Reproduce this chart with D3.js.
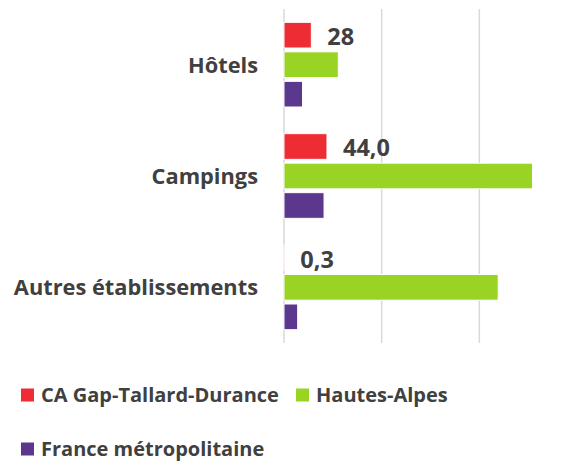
<!DOCTYPE html>
<html>
<head lang="fr">
    <meta charset="UTF-8">
    <title>Hébergements</title>
    <script src="https://cdn.jsdelivr.net/npm/d3@7/dist/d3.min.js"></script>
    <style>
        body { margin: 0; background: #fff; }
        text { font-family: "Open Sans", sans-serif; font-weight: bold; fill: #404040; }
        .grid line { stroke: #d9d9d9; stroke-width: 1.5; }
    </style>
</head>
<body>
<script>

    var categories = ["Hôtels", "Campings", "Autres établissements"];
    var series = ["CA Gap-Tallard-Durance", "Hautes-Alpes", "France métropolitaine"];
    var colors = ["#ee2c33", "#99d324", "#5b388d"];

    var gapValues = [28, 44.0, 0.3];
    var alpesValues = [55.6, 254.4, 219.3];
    var franceValues = [19, 41, 14];
    var gapLabels = ["28", "44,0", "0,3"];
    var gridTicks = [0, 100, 200, 300];

    var width = 574,
            height = 461;

    var svg = d3.select("body").append("svg")
            .attr("width", width)
            .attr("height", height);

    var x = d3.scaleLinear().domain([0, 300]).range([284, 577]);

    var y = d3.scaleBand().domain(categories).range([9, 343]);

    var inner = d3.scaleBand().domain(series)
            .range([(y.bandwidth() - 88.5) / 2, (y.bandwidth() + 88.5) / 2])
            .paddingInner(0.13).paddingOuter(0.065);

    // gridlines
    svg.append("g").attr("class", "grid")
            .selectAll("line").data(gridTicks).enter().append("line")
            .attr("x1", function(d) { return x(d); })
            .attr("x2", function(d) { return x(d); })
            .attr("y1", 9)
            .attr("y2", 343);

    var rows = categories.map(function(c, i) {
        return {cat: c, vals: [gapValues[i], alpesValues[i], franceValues[i]], label: gapLabels[i]};
    });

    var groups = svg.selectAll(".cat").data(rows).enter().append("g")
            .attr("class", "cat")
            .attr("transform", function(d) { return "translate(0," + y(d.cat) + ")"; });

    groups.selectAll("rect")
            .data(function(d) { return d.vals.map(function(v, j) { return {s: series[j], v: v, j: j}; }); })
            .enter().append("rect")
            .attr("x", x(0))
            .attr("y", function(d) { return inner(d.s); })
            .attr("width", function(d) { return x(d.v) - x(0); })
            .attr("height", inner.bandwidth())
            .attr("fill", function(d) { return colors[d.j]; })
            .attr("stroke", "#fff")
            .attr("stroke-width", 1);

    // data labels on first series
    groups.append("text")
            .attr("x", function(d) { return x(d.vals[0]) + 16; })
            .attr("y", function(d) { return inner(series[0]) + inner.bandwidth() / 2 + 10; })
            .style("font-size", "23.5px")
            .text(function(d) { return d.label; });

    // category labels
    groups.append("text")
            .attr("x", 258)
            .attr("y", y.bandwidth() / 2)
            .attr("dy", "0.36em")
            .attr("text-anchor", "end")
            .style("font-size", "21.8px")
            .text(function(d) { return d.cat; });

    // legend
    var legendPos = [[21, 395], [296, 395], [21, 449]];
    var legend = svg.selectAll(".legend").data(series).enter().append("g")
            .attr("class", "legend")
            .attr("transform", function(d, i) { return "translate(" + legendPos[i][0] + "," + legendPos[i][1] + ")"; });

    legend.append("rect")
            .attr("x", 0).attr("y", -6.5)
            .attr("width", 13).attr("height", 13)
            .attr("fill", function(d, i) { return colors[i]; });

    legend.append("text")
            .attr("x", 20)
            .attr("dy", "0.36em")
            .style("font-size", "20px")
            .text(function(d) { return d; });

</script>
</body>
</html>
